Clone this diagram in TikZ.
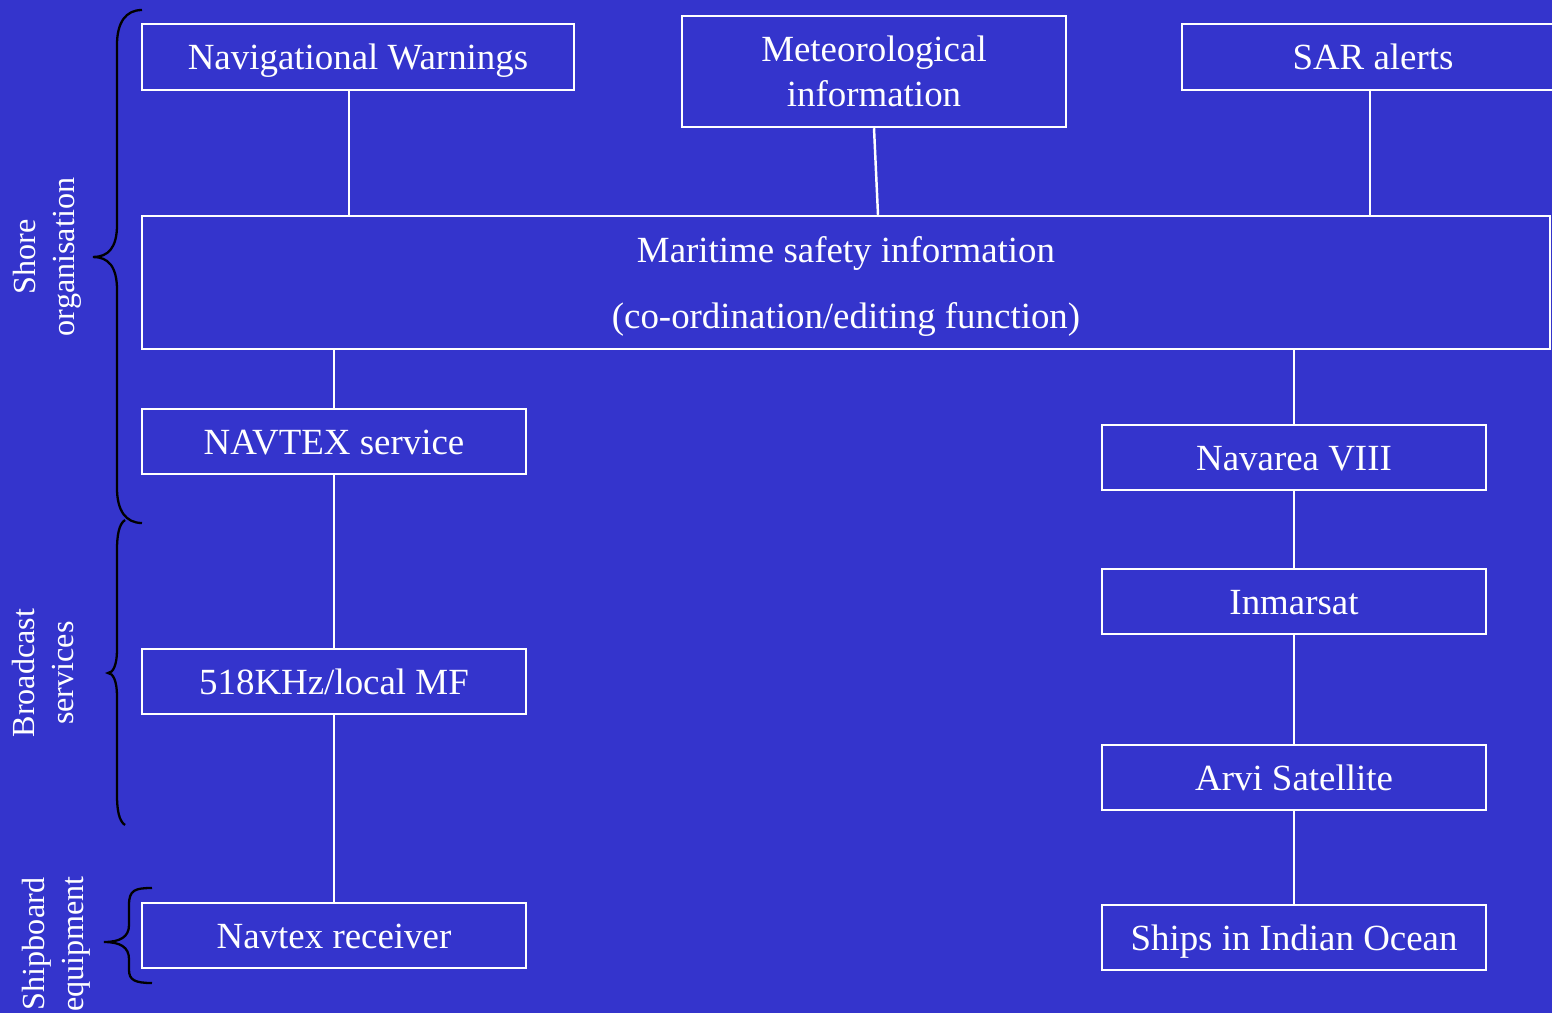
\documentclass[tikz,border=0pt]{standalone}
\usepackage{fontspec}
\setmainfont{Liberation Serif}
\definecolor{bgblue}{RGB}{52,52,204}
\tikzset{
	box/.style={draw=white, line width=1.4pt, text=white, align=center, inner sep=0pt,
		minimum width=7.68cm, minimum height=1.3cm, text height=14.3pt, text depth=0pt,
		font=\fontsize{21}{25.5}\selectfont},
	twoline/.style={text height={}},
	link/.style={draw=white, line width=1.4pt},
	curly/.style={draw=black, line width=1.3pt},
	side/.style={text=white, rotate=90, align=center, inner sep=0pt,
		font=\fontsize{18.3}{22}\selectfont}
}
\begin{document}
\begin{tikzpicture}
		\fill[bgblue] (0,0) rectangle (31.04,-20.26);
		\useasboundingbox (0,0) rectangle (31.04,-20.26);
		
		\node[box, minimum width=8.64cm, minimum height=1.32cm] (navwarn) at (7.16,-1.14) {Navigational Warnings};
		\node[box, twoline, minimum height=2.22cm] (meteo) at (17.48,-1.43) {Meteorological\\information};
		\node[box, minimum width=7.64cm, minimum height=1.32cm] (sar) at (27.46,-1.14) {SAR alerts};
		\node[box, twoline, minimum width=28.16cm, minimum height=2.66cm, font=\fontsize{21}{38}\selectfont] (msi) at (16.92,-5.65) {Maritime safety information\\(co-ordination/editing function)};
		
		\node[box] (navtex) at (6.68,-8.83) {NAVTEX service};
		\node[box] (mf) at (6.68,-13.63) {518KHz/local MF};
		\node[box] (receiver) at (6.68,-18.71) {Navtex receiver};
		
		\node[box] (navarea) at (25.88,-9.15) {Navarea VIII};
		\node[box] (inmarsat) at (25.88,-12.03) {Inmarsat};
		\node[box] (arvi) at (25.88,-15.55) {Arvi Satellite};
		\node[box] (ships) at (25.88,-18.75) {Ships in Indian Ocean};
		
		\draw[link] ([xshift=-0.18cm]navwarn.south) -- ([xshift=-0.18cm]navwarn.south |- msi.north);
		\draw[link] (meteo.south) -- ([xshift=0.08cm]meteo.south |- msi.north);
		\draw[link] ([xshift=-0.06cm]sar.south) -- ([xshift=-0.06cm]sar.south |- msi.north);
		\draw[link] (navtex.north |- msi.south) -- (navtex);
		\draw[link] (navarea.north |- msi.south) -- (navarea);
		\foreach \a/\b in {navtex/mf, mf/receiver, navarea/inmarsat, inmarsat/arvi, arvi/ships}{
			\draw[link] (\a) -- (\b);
		}
		
		% braces on the left
		\draw[curly] (2.84,-0.2) .. controls (2.52,-0.2) and (2.34,-0.44) .. (2.34,-0.9) -- (2.34,-4.5)
			.. controls (2.34,-4.96) and (2.16,-5.14) .. (1.86,-5.14)
			.. controls (2.16,-5.14) and (2.34,-5.32) .. (2.34,-5.8) -- (2.34,-9.76)
			.. controls (2.34,-10.22) and (2.52,-10.46) .. (2.84,-10.46);
		\draw[curly] (2.5,-10.4) .. controls (2.38,-10.48) and (2.34,-10.7) .. (2.34,-11.0) -- (2.34,-13.0)
			.. controls (2.34,-13.3) and (2.26,-13.46) .. (2.16,-13.46)
			.. controls (2.26,-13.46) and (2.34,-13.62) .. (2.34,-13.92) -- (2.34,-15.9)
			.. controls (2.34,-16.2) and (2.38,-16.42) .. (2.5,-16.5);
		\draw[curly] (3.04,-17.76) .. controls (2.7,-17.76) and (2.58,-17.8) .. (2.58,-18.1) -- (2.58,-18.5)
			.. controls (2.58,-18.74) and (2.4,-18.84) .. (2.08,-18.84)
			.. controls (2.4,-18.84) and (2.58,-18.94) .. (2.58,-19.18) -- (2.58,-19.4)
			.. controls (2.58,-19.6) and (2.7,-19.66) .. (3.04,-19.66);
		
		\node[side] (shore) at (0.95,-5.14) {Shore\\organisation};
		\node[side] (broadcast) at (0.86,-13.46) {Broadcast\\services};
		\node[side] (shipboard) at (1.12,-18.88) {Shipboard\\equipment};
\end{tikzpicture}
\end{document}
